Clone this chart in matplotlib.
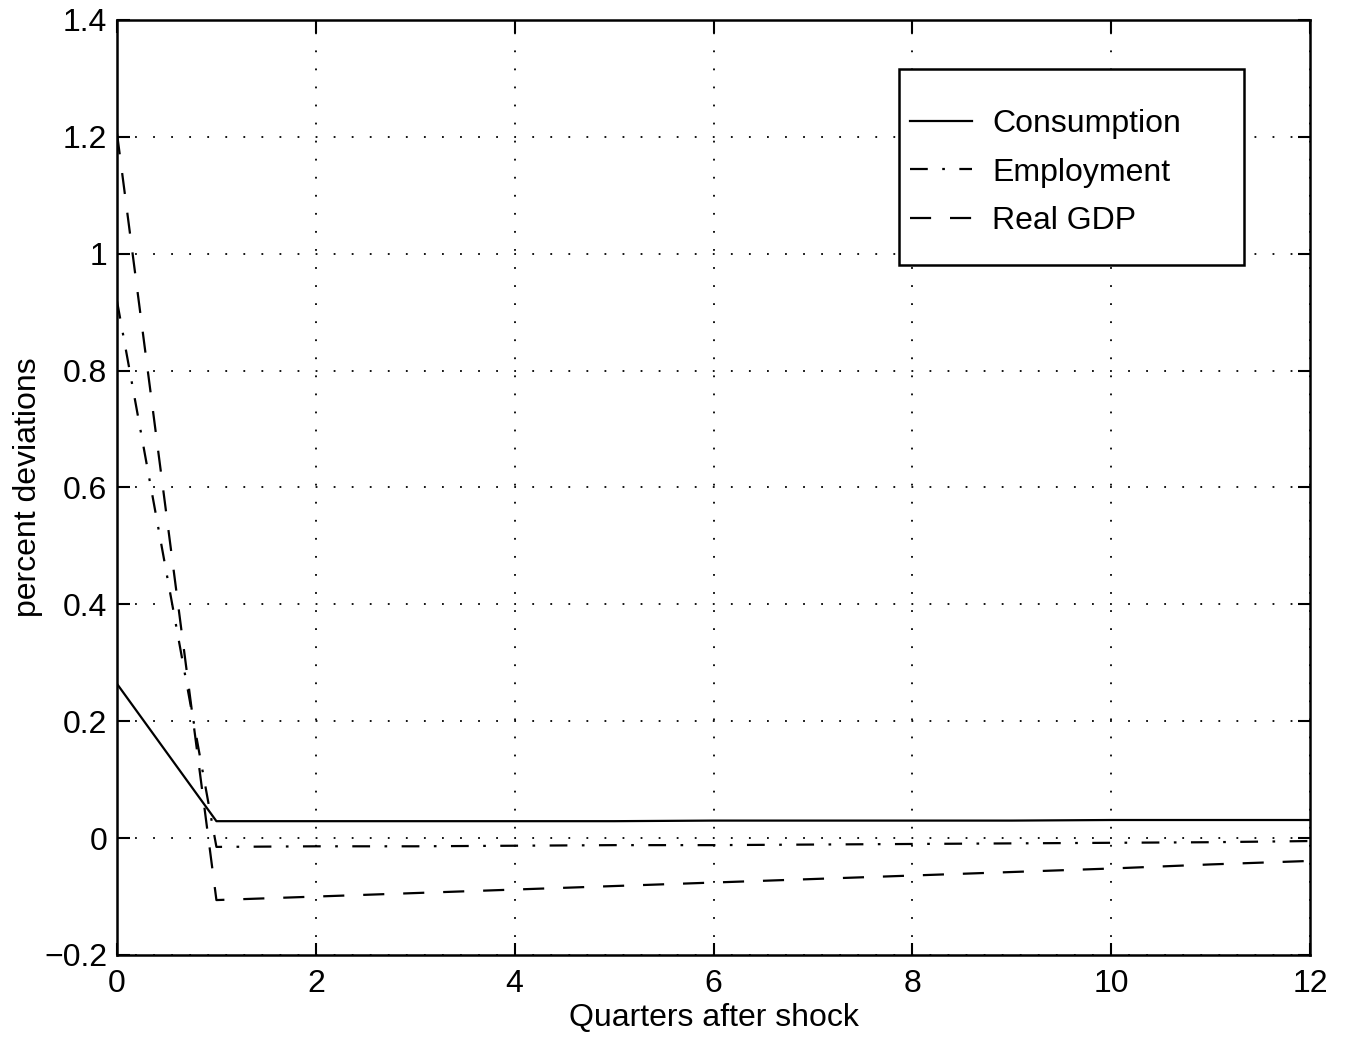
import numpy as np
import matplotlib.pyplot as plt
from matplotlib.patches import Rectangle

plt.rcParams['font.family'] = ['Liberation Sans', 'DejaVu Sans']

quarters = np.arange(13)
consumption = [0.264, 0.029, 0.029, 0.029, 0.029, 0.029, 0.030, 0.030, 0.030, 0.030, 0.031, 0.031, 0.031]
employment = [0.919, -0.015, -0.014, -0.014, -0.013, -0.012, -0.012, -0.011, -0.010, -0.009, -0.008, -0.007, -0.005]
real_gdp = [1.206, -0.106, -0.100, -0.094, -0.088, -0.082, -0.076, -0.070, -0.064, -0.058, -0.052, -0.045, -0.039]

fig = plt.figure(figsize=(13.45, 10.37), dpi=100)
ax = fig.add_axes([117/1345, 1 - 955/1037, (1310-117)/1345, (955-20)/1037])

lw = 1.6
ax.plot(quarters, consumption, color='black', lw=lw, ls='-', label='Consumption')
ax.plot(quarters, employment, color='black', lw=lw, ls=(0, (8, 6.5, 1.2, 6.5)), label='Employment')
ax.plot(quarters, real_gdp, color='black', lw=lw, ls=(0, (9.5, 8.5)), label='Real GDP')

ax.set_xlim(0, 12)
ax.set_ylim(-0.2, 1.4)
ax.set_xticks(np.arange(0, 13, 2))
ax.set_yticks(np.arange(-0.2, 1.41, 0.2))
ax.set_yticklabels(['\u22120.2', '0', '0.2', '0.4', '0.6', '0.8', '1', '1.2', '1.4'])
ax.grid(True, color='black', ls=(0, (1, 9)), lw=1.3)
ax.tick_params(direction='in', length=9, width=1.5, labelsize=23, top=True, right=True)
ax.tick_params(axis='x', pad=10)
ax.tick_params(axis='y', pad=7)
for s in ax.spines.values():
    s.set_linewidth(1.8)

ax.set_xlabel('Quarters after shock', fontsize=23, labelpad=3)
ax.set_ylabel('percent deviations', fontsize=23, labelpad=1)

# legend entries without frame, box drawn separately
leg = ax.legend(loc='upper left', bbox_to_anchor=(0.6647, 0.9045), fontsize=23,
                frameon=False, handlelength=1.95, borderpad=0, labelspacing=0.57,
                handletextpad=0.62, borderaxespad=0)
box = Rectangle((0.6555, 0.738), 0.9447 - 0.6555, 0.9476 - 0.738, transform=ax.transAxes,
                fill=True, facecolor='white', edgecolor='black', lw=1.8, zorder=4)
ax.add_patch(box)
leg.set_zorder(5)

fig.savefig('out.png', dpi=100)
